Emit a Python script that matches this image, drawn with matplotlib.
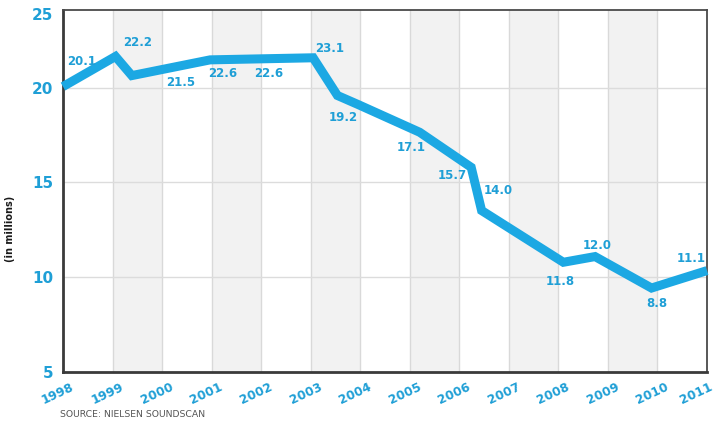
import matplotlib
matplotlib.use("Agg")
import matplotlib.pyplot as plt
import matplotlib.transforms as mtransforms

# line vertices as drawn (fractional year, millions)
line_x = [1998.0, 1999.06, 1999.39, 2000.97, 2003.05, 2003.54, 2003.96,
          2005.2, 2006.24, 2006.45, 2008.1, 2008.74, 2009.88, 2011.0]
line_y = [20.06, 21.65, 20.64, 21.47, 21.58, 19.59, 19.11,
          17.65, 15.8, 13.52, 10.79, 11.09, 9.43, 10.35]

# printed value labels
value_labels = ["20.1", "22.2", "21.5", "22.6", "22.6", "23.1", "19.2",
                "17.1", "15.7", "14.0", "11.8", "12.0", "8.8", "11.1"]

years = list(range(1998, 2012))
ytick_vals = [5, 10, 15, 20]
ytick_labels = ["5", "10", "15", "20"]

BLUE = "#1ca8e3"
TEXT_BLUE = "#1f9fd6"

fig = plt.figure(figsize=(7.18, 4.21), dpi=100)
ax = fig.add_axes([0.0877, 0.1164, 0.897, 0.8598])

ymin, ymax = 5, 24.1
ax.set_xlim(1998, 2011)
ax.set_ylim(ymin, ymax)

# alternating grey columns
for y0 in range(1999, 2011, 2):
    ax.axvspan(y0, y0 + 1, color="#f2f2f2", zorder=0, lw=0)

for yr in years[1:-1]:
    ax.axvline(yr, color="#d9d9d9", lw=1, zorder=1)
for v in ytick_vals[1:]:
    ax.axhline(v, color="#dcdcdc", lw=1, zorder=1)

ax.plot(line_x, line_y, color=BLUE, lw=6.5, solid_joinstyle="miter",
        solid_capstyle="butt", zorder=3, clip_on=False)

# label placement (data coords)
label_pos = [(1998.37, 21.4), (1999.51, 22.37), (2000.38, 20.29), (2001.22, 20.73),
             (2002.16, 20.73), (2003.39, 22.05), (2003.66, 18.41), (2005.03, 16.86),
             (2005.85, 15.36), (2006.78, 14.57), (2008.03, 9.78), (2008.79, 11.67),
             (2009.98, 8.59), (2010.68, 11.0)]
for (lx, ly), txt in zip(label_pos, value_labels):
    ax.text(lx, ly, txt, color=TEXT_BLUE, fontsize=8.5, fontweight="bold",
            ha="center", va="center", zorder=4)

for side in ["left", "bottom"]:
    ax.spines[side].set_color("#3a3a3a")
    ax.spines[side].set_linewidth(2)
for side in ["top", "right"]:
    ax.spines[side].set_color("#4a4a4a")
    ax.spines[side].set_linewidth(1.3)

ax.set_yticks(ytick_vals)
ax.set_yticklabels(ytick_labels, color=TEXT_BLUE, fontsize=11, fontweight="bold")
ax.tick_params(axis="both", length=0)
ax.tick_params(axis="y", pad=7)
# top label sits on the frame
ax.text(-0.0155, 0.986, "25", transform=ax.transAxes, color=TEXT_BLUE, fontsize=11,
        fontweight="bold", ha="right", va="center")

ax.set_xticks(years)
ax.set_xticklabels([str(y) for y in years], color=TEXT_BLUE, fontsize=8.8,
                   fontweight="bold", rotation=25, ha="center")
ax.tick_params(axis="x", pad=6)
shift = mtransforms.ScaledTranslation(-5 / 100, 0, fig.dpi_scale_trans)
for lbl in ax.get_xticklabels():
    lbl.set_transform(lbl.get_transform() + shift)
# keep the last year inside the canvas
last = ax.get_xticklabels()[-1]
last.set_transform(last.get_transform() +
                   mtransforms.ScaledTranslation(-6 / 100, 0, fig.dpi_scale_trans))

fig.text(0.014, 0.456, "(in millions)", rotation=90, fontsize=7, fontweight="bold",
         color="#1a1a1a", ha="center", va="center")
fig.text(0.083, 0.005, "SOURCE: NIELSEN SOUNDSCAN", fontsize=6.7, color="#555555",
         ha="left", va="bottom")

fig.savefig("out.png", dpi=100)
